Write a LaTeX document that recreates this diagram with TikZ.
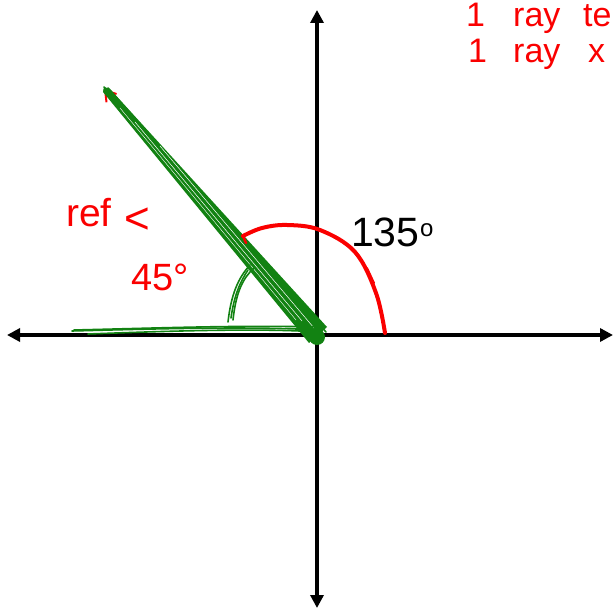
\documentclass[tikz,border=0pt]{standalone}
\usepackage{fontspec}
\setmainfont{Liberation Sans}
\usetikzlibrary{arrows.meta}
\definecolor{pen}{RGB}{250,0,0}
\definecolor{grn}{RGB}{18,130,18}
\begin{document}
\begin{tikzpicture}[x=1pt,y=-1pt,
  axis/.style={line width=4pt,black,{Triangle[length=13pt,width=13pt]}-{Triangle[length=13pt,width=13pt]}},
  hand/.style={text=pen,inner sep=0pt,anchor=base west,font=\fontsize{34}{38}\selectfont},
  gstroke/.style={grn,line width=1.6pt,line cap=round},
  rstroke/.style={pen,line width=4pt,line cap=round}]
\useasboundingbox (0,0) rectangle (613,609);
% axes
\coordinate (T) at (317,10);
\coordinate (B) at (317,608);
\coordinate (L) at (7,335);
\coordinate (R) at (613,335);
\coordinate (O) at (317,335);
\draw[axis] (B) -- (T);
\draw[axis] (L) -- (R);
% red terminal ray under the green
\coordinate (Ra) at (310,339);
\coordinate (Rb) at (104,89);
\draw[pen,line width=2pt,-{Straight Barb[length=10pt,width=13pt]}] (Ra) -- (Rb);
% green ray
\coordinate (G1) at (104,87);
\fill[grn] (G1) -- (110,89) -- (327,327) -- (309,343) -- (103,92) -- cycle;
\draw[gstroke] (G1) -- (319,332);
\draw[gstroke] (108,88) -- (326,332);
\draw[gstroke] (104,90) -- (310,339);
\draw[white,line width=0.5pt] (135,122) -- (302,321);
\draw[white,line width=0.5pt] (160,146) -- (314,328);
\draw[white,line width=0.4pt] (120,108) -- (296,320);
\fill[grn] (317,337) circle (8);
% green horizontal
\coordinate (H1) at (72,331);
\coordinate (H2) at (318,330);
\draw[gstroke] (H1) .. controls (150,329) and (250,326) .. (H2);
\draw[gstroke] (88,334) .. controls (170,331) and (260,328) .. (318,332);
\draw[gstroke] (74,330) .. controls (160,328) and (240,325) .. (316,327);
% green reference angle arc
\draw[gstroke] (228,322) .. controls (231,295) and (238,278) .. (250,265);
\draw[gstroke] (233,320) .. controls (236,292) and (243,278) .. (254,268);
\draw[gstroke] (231,318) .. controls (234,296) and (240,282) .. (248,270);
% red 135 arc
\draw[rstroke] plot[smooth,tension=0.6] coordinates {(385,333) (376,293) (355,252) (320,230) (287,225) (262,228) (243,236)};
\draw[pen,line width=2.5pt,line cap=round] (243,236) -- (246,243);
\draw[pen,line width=2pt,line cap=round] (367,268) -- (374,283);
% labels
\node[inner sep=0pt,anchor=base west,font=\fontsize{41}{45}\selectfont] (a135) at (351,247) {135};
\node[inner sep=0pt,anchor=base west,font=\fontsize{24}{26}\selectfont] (deg) at (a135.base east) {\raisebox{10pt}{o}};
\node[hand] (l1a) at (466,27) {1};
\node[hand] (l1b) at (513,27) {ray};
\node[hand] (l1c) at (583,27) {te};
\node[hand] (l2a) at (468,63) {1};
\node[hand] (l2b) at (513,63) {ray};
\node[hand] (l2c) at (588,63) {x};
\node[hand,font=\fontsize{39}{42}\selectfont] (ref) at (66,227) {ref};
\node[hand,font=\fontsize{44}{48}\selectfont] (lt) at (124,234) {<};
\node[hand,font=\fontsize{38}{42}\selectfont] (f45) at (131,291) {45°};
\end{tikzpicture}
\end{document}
